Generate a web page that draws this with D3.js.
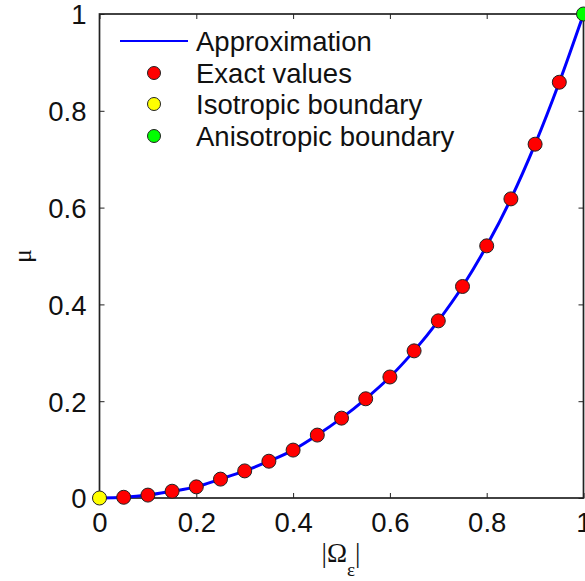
<!DOCTYPE html>
<html><head><meta charset="utf-8">
<script src="https://cdn.jsdelivr.net/npm/d3@7"></script>
<style>body{margin:0;background:#fff}svg{display:block}</style>
</head><body><svg id="c" width="585" height="581"></svg>
<script>
// Data
const exactX = [0.05,0.10,0.15,0.20,0.25,0.30,0.35,0.40,0.45,0.50,0.55,0.60,0.65,0.70,0.75,0.80,0.85,0.90,0.95];
const exactY = [0.0015,0.006,0.014,0.023,0.039,0.056,0.076,0.099,0.130,0.165,0.205,0.250,0.304,0.366,0.437,0.521,0.618,0.731,0.859];
const approxX = [0,0.05,0.10,0.15,0.20,0.25,0.30,0.35,0.40,0.45,0.50,0.55,0.60,0.65,0.70,0.75,0.80,0.85,0.90,0.95,1.0];
const approxY = [0,0.0015,0.006,0.014,0.023,0.039,0.056,0.076,0.099,0.130,0.165,0.205,0.250,0.304,0.366,0.437,0.521,0.618,0.731,0.859,1.0];
const isoPoint = [0,0];
const anisoPoint = [1,1];
const xTicks = [0,0.2,0.4,0.6,0.8,1];
const yTicks = [0,0.2,0.4,0.6,0.8,1];
const legendLabels = ["Approximation","Exact values","Isotropic boundary","Anisotropic boundary"];

const L=99.5,R=583.5,T=14,B=498;
const svg=d3.select("#c");
const x=d3.scaleLinear().domain([0,1]).range([L,R]);
const y=d3.scaleLinear().domain([0,1]).range([B,T]);
const font="'Liberation Sans',Arial,sans-serif";
const axc="#222";
const fs=27.5;

// box
svg.append("rect").attr("x",L).attr("y",T).attr("width",R-L).attr("height",B-T)
  .attr("fill","none").attr("stroke",axc).attr("stroke-width",1.7);

// ticks (inward, all sides)
const fmt=d=>d===0?"0":d===1?"1":String(d);
const gb=svg.append("g").attr("transform",`translate(0,${B})`)
  .call(d3.axisBottom(x).tickValues(xTicks).tickSize(-5).tickSizeOuter(0).tickPadding(14).tickFormat(fmt));
const gt=svg.append("g").attr("transform",`translate(0,${T})`)
  .call(d3.axisTop(x).tickValues(xTicks).tickSize(-5).tickSizeOuter(0).tickFormat(""));
const gl=svg.append("g").attr("transform",`translate(${L},0)`)
  .call(d3.axisLeft(y).tickValues(yTicks).tickSize(-5).tickSizeOuter(0).tickPadding(13).tickFormat(fmt));
const gr=svg.append("g").attr("transform",`translate(${R},0)`)
  .call(d3.axisRight(y).tickValues(yTicks).tickSize(-5).tickSizeOuter(0).tickFormat(""));
[gb,gt,gl,gr].forEach(g=>{
  g.select(".domain").remove();
  g.selectAll("line").attr("stroke",axc).attr("stroke-width",1);
  g.selectAll("text").attr("font-family",font).attr("font-size",fs).attr("fill","#111");
});
gb.selectAll("text").attr("dy","0.71em");
gl.selectAll("text").attr("dy","0.36em");

// approximation line
const line=d3.line().x((d,i)=>x(approxX[i])).y(d=>y(d)).curve(d3.curveMonotoneX);
svg.append("path").datum(approxY).attr("d",line).attr("fill","none")
  .attr("stroke","#0000ff").attr("stroke-width",3);

// exact markers
svg.append("g").selectAll("circle").data(exactY).join("circle")
  .attr("cx",(d,i)=>x(exactX[i])).attr("cy",d=>y(d)).attr("r",7)
  .attr("fill","#ff0000").attr("stroke","#222").attr("stroke-width",1);
svg.append("circle").attr("cx",x(isoPoint[0])).attr("cy",y(isoPoint[1])).attr("r",7)
  .attr("fill","#ffff00").attr("stroke","#222").attr("stroke-width",1);
svg.append("circle").attr("cx",x(anisoPoint[0])).attr("cy",y(anisoPoint[1])).attr("r",7)
  .attr("fill","#00ff00").attr("stroke","#222").attr("stroke-width",1);

// legend
const lg=svg.append("g");
const rowY=[41,73,104,136];
const fills=[null,"#ff0000","#ffff00","#00ff00"];
legendLabels.forEach((t,i)=>{
  if(i===0){
    lg.append("line").attr("x1",120).attr("x2",188).attr("y1",rowY[i]).attr("y2",rowY[i])
      .attr("stroke","#0000ff").attr("stroke-width",2);
  } else {
    lg.append("circle").attr("cx",154).attr("cy",rowY[i]).attr("r",6.5)
      .attr("fill",fills[i]).attr("stroke","#222").attr("stroke-width",1);
  }
  lg.append("text").attr("x",196).attr("y",rowY[i]).attr("dy","0.36em")
    .attr("font-family",font).attr("font-size",fs).attr("fill","#111").text(t);
});

// axis labels
svg.append("text").attr("transform","translate(22,256) rotate(-90)")
  .attr("text-anchor","middle").attr("dy","0.36em")
  .attr("font-family","'Liberation Serif',serif").attr("font-size",26).attr("fill","#111").text("μ");
const xl=svg.append("text").attr("x",341).attr("y",562).attr("text-anchor","middle")
  .attr("font-family","'Liberation Serif',serif").attr("font-size",27).attr("fill","#111");
xl.append("tspan").text("|Ω");
xl.append("tspan").attr("font-size",19).attr("dy",14).text("ε");
xl.append("tspan").attr("dy",-14).text("|");
</script></body></html>
